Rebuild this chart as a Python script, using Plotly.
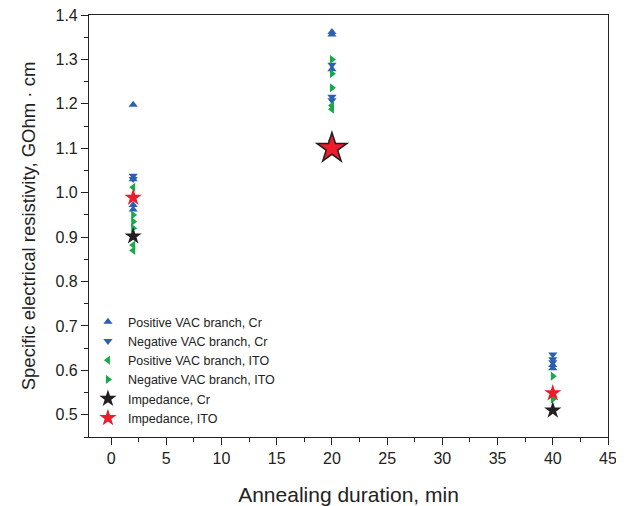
import plotly.graph_objects as go

# ---- data ----
pos_cr_x = [2, 2, 2, 2, 20, 20, 20, 40, 40]
pos_cr_y = [1.198, 1.030, 0.972, 0.962, 1.362, 1.356, 1.278, 0.612, 0.605]

neg_cr_x = [2, 2, 20, 20, 20, 40, 40, 40]
neg_cr_y = [1.038, 1.031, 1.288, 1.216, 1.208, 0.636, 0.625, 0.618]

pos_ito_x = [2, 2, 2, 20, 20, 20]
pos_ito_y = [1.012, 0.882, 0.870, 1.196, 1.188, 1.118]

neg_ito_x = [2, 2, 2, 20, 20, 20, 40, 40]
neg_ito_y = [0.950, 0.935, 0.920, 1.300, 1.268, 1.236, 0.587, 0.535]

imp_cr_x = [2, 20, 40]
imp_cr_y = [0.902, 1.10, 0.510]

imp_ito_x = [2, 20, 40]
imp_ito_y = [0.989, 1.10, 0.549]

names = ["Positive VAC branch, Cr", "Negative VAC branch, Cr",
         "Positive VAC branch, ITO", "Negative VAC branch, ITO",
         "Impedance, Cr", "Impedance, ITO"]

x_ticks = [0, 5, 10, 15, 20, 25, 30, 35, 40, 45]
y_ticks = [0.5, 0.6, 0.7, 0.8, 0.9, 1.0, 1.1, 1.2, 1.3, 1.4]

# ---- styles ----
BLUE = "#2b5fb4"
GREEN = "#19a94b"
RED = "#ec1c2a"
BLACK = "#231f20"
FONT = "Liberation Sans, Arial, sans-serif"

fig = go.Figure()

def add(x, y, name, symbol, color, size, legend=True):
    fig.add_trace(go.Scatter(
        x=x, y=y, mode="markers", name=name, showlegend=legend,
        legendgroup=name,
        marker=dict(symbol=symbol, color=color, size=size, opacity=1, line=dict(width=0)),
    ))

add(pos_cr_x, pos_cr_y, names[0], "triangle-up", BLUE, 8)
add(neg_cr_x, neg_cr_y, names[1], "triangle-down", BLUE, 8)
add(pos_ito_x, pos_ito_y, names[2], "triangle-left", GREEN, 8)
add(neg_ito_x, neg_ito_y, names[3], "triangle-right", GREEN, 8)
# the 20-min impedance point: black star drawn larger behind the red one
add(imp_cr_x[1:2], imp_cr_y[1:2], names[4], "star", BLACK, 26, legend=False)
add(imp_cr_x[0::2], imp_cr_y[0::2], names[4], "star", BLACK, 13)
add(imp_ito_x[1:2], imp_ito_y[1:2], names[5], "star", RED, 19, legend=False)
add(imp_ito_x[0::2], imp_ito_y[0::2], names[5], "star", RED, 13)

axis_common = dict(
    showline=True, linecolor="#222", linewidth=1.1, mirror=True,
    ticks="outside", ticklen=7, tickwidth=1.1, tickcolor="#222",
    showgrid=False, zeroline=False, automargin=False,
    ticklabeloverflow="allow",
    tickfont=dict(family=FONT, size=16, color="#222"),
)

# the page body has an 8px margin; compensate so the plot sits where it should
fig.update_layout(
    width=616, height=498,
    margin=dict(l=81, r=16, t=7, b=69),
    paper_bgcolor="white", plot_bgcolor="white",
    font=dict(family=FONT, color="#222"),
    xaxis=dict(
        range=[-2, 45], tickvals=x_ticks,
        minor=dict(ticks="outside", ticklen=4, tickwidth=1.1, tickcolor="#222", dtick=2.5, tick0=0),
        title=dict(text="Annealing duration, min", font=dict(family=FONT, size=21), standoff=26),
        **axis_common,
    ),
    yaxis=dict(
        range=[0.45, 1.4], tickvals=y_ticks, tickformat=".1f",
        minor=dict(ticks="outside", ticklen=4, tickwidth=1.1, tickcolor="#222", dtick=0.05, tick0=0),
        title=dict(text="Specific electrical resistivity, GOhm \u00b7 cm", font=dict(family=FONT, size=18.5), standoff=15),
        **axis_common,
    ),
    legend=dict(
        x=-0.002, y=0.308, xanchor="left", yanchor="top",
        bgcolor="rgba(0,0,0,0)", borderwidth=0,
        font=dict(family=FONT, size=12.5, color="#222"),
        tracegroupgap=0,
    ),
    showlegend=True,
)

fig.write_html("out.html")
